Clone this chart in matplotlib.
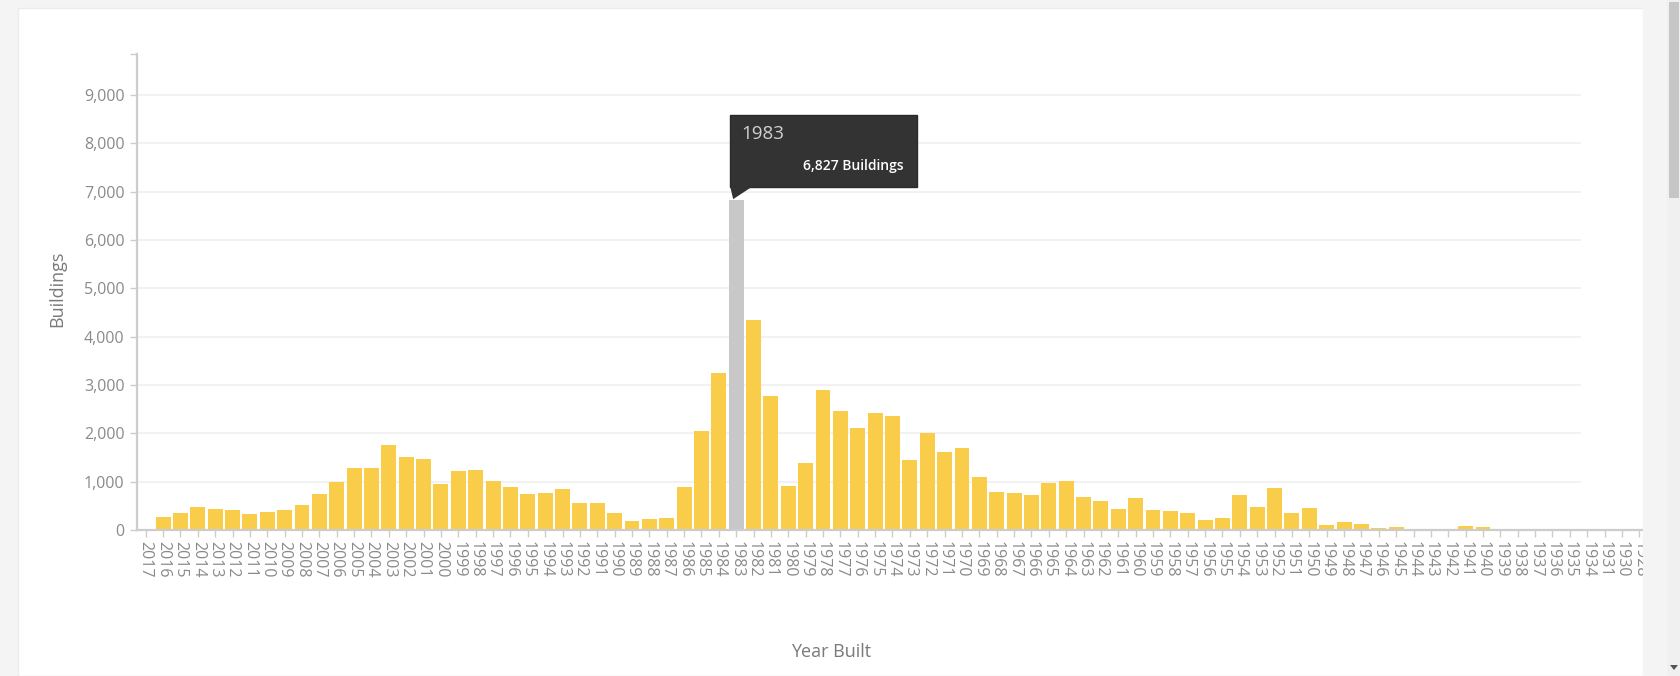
import matplotlib
matplotlib.use("Agg")
import matplotlib.pyplot as plt
from matplotlib.patches import Rectangle, Polygon
from matplotlib.ticker import FuncFormatter
from matplotlib.transforms import Affine2D

plt.rcParams['font.family'] = ['Open Sans', 'DejaVu Sans']

# --- data ---
years = [2017, 2016, 2015, 2014, 2013, 2012, 2011, 2010, 2009, 2008,
         2007, 2006, 2005, 2004, 2003, 2002, 2001, 2000, 1999, 1998,
         1997, 1996, 1995, 1994, 1993, 1992, 1991, 1990, 1989, 1988,
         1987, 1986, 1985, 1984, 1983, 1982, 1981, 1980, 1979, 1978,
         1977, 1976, 1975, 1974, 1973, 1972, 1971, 1970, 1969, 1968,
         1967, 1966, 1965, 1964, 1963, 1962, 1961, 1960, 1959, 1958,
         1957, 1956, 1955, 1954, 1953, 1952, 1951, 1950, 1949, 1948,
         1947, 1946, 1945, 1944, 1943, 1942, 1941, 1940, 1939, 1938,
         1937, 1936, 1935, 1934, 1931, 1930, 1928]
buildings = [20, 275, 358, 483, 435, 421, 324, 380, 407, 510,
             738, 994, 1277, 1277, 1753, 1518, 1470, 952, 1221, 1242,
             1021, 890, 738, 760, 849, 566, 552, 359, 193, 228,
             242, 897, 2050, 3257, 6827, 4348, 2774, 911, 1394, 2892,
             2470, 2105, 2416, 2360, 1449, 2015, 1622, 1705, 1090, 787,
             773, 725, 973, 1021, 690, 594, 428, 662, 414, 393,
             345, 207, 248, 725, 472, 866, 345, 455, 97, 166,
             124, 41, 55, 0, 0, 21, 76, 55, 0, 0,
             0, 0, 0, 0, 0, 0, 0]
highlight_year = 1983
y_ticks = [0, 1000, 2000, 3000, 4000, 5000, 6000, 7000, 8000, 9000]

BAR = '#f9cc49'
HIGHLIGHT = '#c8c8c8'
AXIS = '#cccccc'
TXT = '#8a8a8a'

W, H = 1681, 676
fig = plt.figure(figsize=(W / 100, H / 100), dpi=100)
fig.patch.set_facecolor('#f4f4f4')

# white card
fig.patches.append(Rectangle((18 / W, 0), (1643 - 18) / W, (H - 8) / H,
                             transform=fig.transFigure, facecolor='white',
                             edgecolor='#ececec', linewidth=1, zorder=-5))

ax = fig.add_axes([137 / W, (H - 530) / H, (1648 - 137) / W, 476.4 / H])
ax.set_facecolor('none')

x = list(range(len(years)))
colors = [HIGHLIGHT if y == highlight_year else BAR for y in years]
ax.bar(x, buildings, width=0.86, color=colors, zorder=2)

ax.set_xlim(-0.5, len(years) - 0.5)
ax.set_ylim(0, 9860)

# light grid lines (stop short of the right end, as in the reference)
for t in y_ticks[1:]:
    ax.axhline(t, xmin=0, xmax=0.955, color='#f2f2f2', linewidth=1.5, zorder=1)

ax.set_xticks(x)
ax.set_xticklabels([str(y) for y in years], rotation=-90, va='top', ha='center')
ax.set_yticks(y_ticks)
ax.set_yticks([9860], minor=True)
ax.yaxis.set_major_formatter(FuncFormatter(lambda v, p: f'{int(v):,}'))

for s in ['top', 'right']:
    ax.spines[s].set_visible(False)
for s in ['left', 'bottom']:
    ax.spines[s].set_color(AXIS)
    ax.spines[s].set_linewidth(1.6)

ax.tick_params(axis='x', length=5, width=1, color=AXIS, pad=3,
               labelsize=11.5, labelcolor=TXT)
ax.tick_params(axis='y', which='both', length=5, width=1, color=AXIS, pad=4,
               labelsize=11.5, labelcolor=TXT)

fig.text(57 / W, 1 - 289 / H, 'Buildings', rotation=90, ha='center',
         va='center', fontsize=13, color='#7a7a7a')
fig.text(831 / W, 1 - 652 / H, 'Year Built', ha='center', va='center',
         fontsize=13, color='#7a7a7a')

# tooltip over the highlighted bar
i = years.index(highlight_year)
px, py = ax.transData.transform((i, buildings[i]))
tt = Affine2D().translate(px, py)
ax.add_patch(Rectangle((-6, 13), 187, 72, transform=tt, facecolor='#333333',
                       edgecolor='#2a2a2a', clip_on=False, zorder=10))
ax.add_patch(Polygon([(-6, 13.5), (16, 13.5), (-3, 1)], closed=True,
                     transform=tt, facecolor='#333333', edgecolor='none',
                     clip_on=False, zorder=10))
ax.text(5, 66, str(highlight_year), transform=tt, ha='left', va='center',
        fontsize=13.5, color='#d0d0d0', zorder=11)
ax.text(167, 34, f'{buildings[i]:,} Buildings', transform=tt, ha='right',
        va='center', fontsize=10, color='white', fontweight='semibold',
        zorder=11)

# right edge of the page: card clip and scrollbar
fig.patches.append(Rectangle((1643 / W, 0), (W - 1643) / W, 1,
                             transform=fig.transFigure, facecolor='#f4f4f4',
                             edgecolor='none', zorder=20))
fig.patches.append(Rectangle((1667 / W, 0), (W - 1667) / W, 1,
                             transform=fig.transFigure, facecolor='#f0f0f0',
                             edgecolor='none', zorder=21))
fig.patches.append(Rectangle((1669 / W, 1 - 198 / H), 10 / W, 196 / H,
                             transform=fig.transFigure, facecolor='#c6c6c6',
                             edgecolor='none', zorder=22))
fig.patches.append(Polygon([(1670 / W, 1 - 665 / H), (1678 / W, 1 - 665 / H),
                            (1674 / W, 1 - 670 / H)], closed=True,
                           transform=fig.transFigure, facecolor='#555555',
                           edgecolor='none', zorder=22))

fig.savefig('out.png', dpi=100, facecolor=fig.get_facecolor())
